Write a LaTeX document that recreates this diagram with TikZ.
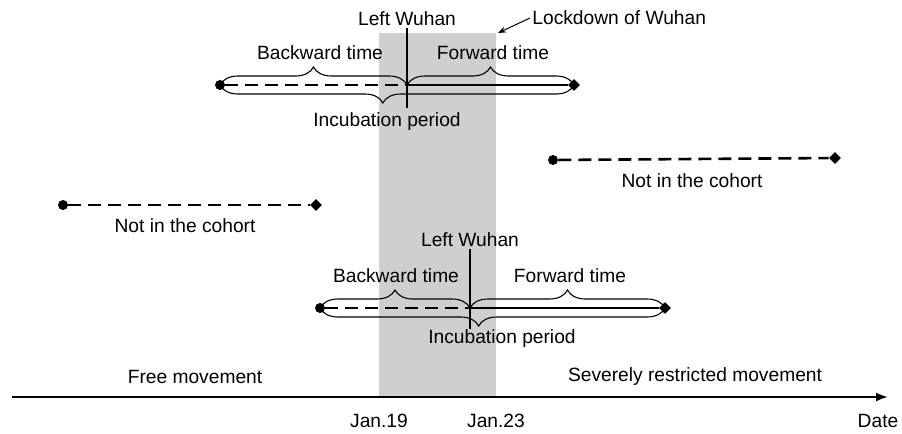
\documentclass[tikz,border=0pt]{standalone}
\usepackage{fontspec}
\setmainfont{Liberation Sans}
\usepackage{xcolor}
\usetikzlibrary{positioning,arrows.meta,shapes.geometric,decorations.pathreplacing}
\definecolor{lockgray}{RGB}{208,206,206}
\tikzset{
lab/.style={
font=\fontsize{9.6}{11}\selectfont,
inner sep=1pt
},
startdot/.style={
circle,
fill,
inner sep=0pt,
minimum size=5pt
},
enddiam/.style={
diamond,
fill,
inner sep=0pt,
minimum width=6pt,
minimum height=6pt
},
dashline/.style={
line width=1.3pt,
dash pattern=on 6.5pt off 3.5pt
},
solidline/.style={
line width=1.4pt
},
wline/.style={
line width=0.7pt
},
hbrace/.style={
decorate,
decoration={brace,amplitude=9pt},
line width=0.55pt
},
axisline/.style={
-{Latex[length=6pt,width=4.5pt]},
line width=1pt
}
}

\begin{document}
\begin{tikzpicture}[x=0.5pt,y=-0.5pt]
\useasboundingbox (0,0) rectangle (902,434);
\fill[lockgray] (379,33) rectangle (496,397);

% time axis
\coordinate (ax0) at (12,397);
\coordinate (ax1) at (888,397);
\draw[axisline](ax0)--(ax1);
\node[lab](date) at (878,421){Date};
\node[lab](jan19) at (379,421){Jan.19};
\node[lab](jan23) at (496,421){Jan.23};
\node[lab](free) at (195,377){Free movement};
\node[lab](severe) at (695,377){Severely restricted movement};

% lockdown
\node[lab,anchor=west](lock) at (530,18){Lockdown of Wuhan};
\coordinate (lockpt) at (498,33);
\draw[-{Stealth[length=4pt,width=3pt]},line width=0.5pt](lock.west)--(lockpt);

% case in the cohort, left before Jan.19
\node[startdot](s1) at (220,85){};
\node[enddiam](e1) at (574,85){};
\coordinate (w1) at (407,85);
\coordinate (w1b) at (407,108);
\node[lab](lw1) at (407,19){Left Wuhan};
\draw[dashline](s1)--(w1);
\draw[solidline](w1)--(e1);
\draw[wline](lw1.south)--(w1b);
\draw[hbrace](s1.center)--(w1);
\draw[hbrace](w1)--(e1.center);
\draw[hbrace,decoration={mirror,aspect=0.46}](s1.center)--(e1.center);
\node[lab](bw1) at (320,53){Backward time};
\node[lab](fw1) at (493,53){Forward time};
\node[lab](inc1) at (387,122){Incubation period};

% case in the cohort, left between Jan.19 and Jan.23
\node[startdot](s2) at (320,308){};
\node[enddiam](e2) at (665,308){};
\coordinate (w2) at (470,308);
\coordinate (w2b) at (470,329);
\node[lab](lw2) at (470,240){Left Wuhan};
\draw[dashline](s2)--(w2);
\draw[solidline](w2)--(e2);
\draw[wline](lw2.south)--(w2b);
\draw[hbrace](s2.center)--(w2);
\draw[hbrace](w2)--(e2.center);
\draw[hbrace,decoration={mirror,aspect=0.46}](s2.center)--(e2.center);
\node[lab](bw2) at (396,276){Backward time};
\node[lab](fw2) at (570,276){Forward time};
\node[lab](inc2) at (502,339){Incubation period};

% cases not in the cohort
\node[startdot](n1s) at (63,205){};
\node[enddiam](n1e) at (316,205){};
\draw[dashline](n1s)--(n1e);
\node[lab](n1) at (185,226){Not in the cohort};
\node[startdot](n2s) at (553,160){};
\node[enddiam](n2e) at (835,158){};
\draw[dashline](n2s)--(n2e);
\node[lab](n2) at (692,181){Not in the cohort};
\end{tikzpicture}
\end{document}
